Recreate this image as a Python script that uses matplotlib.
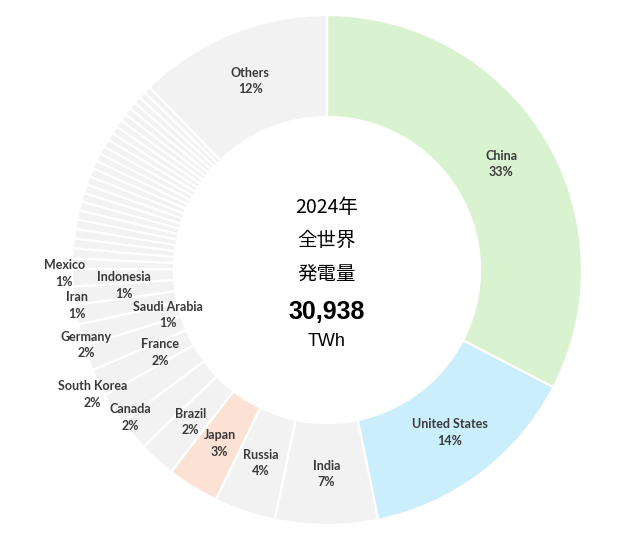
import matplotlib
matplotlib.use("Agg")
import matplotlib.pyplot as plt
import numpy as np

# 2024 electricity generation (TWh)
countries = ["China", "United States", "India", "Russia", "Japan", "Brazil",
             "Canada", "South Korea", "France", "Germany", "Saudi Arabia",
             "Iran", "Indonesia", "Mexico"]
gen = [10087, 4387, 2013, 1204, 1015, 723, 630, 617, 539, 498, 430, 380, 360, 345]

# unlabelled smaller countries, in drawing order
small_gen = [201, 196, 192, 188, 184, 180, 176, 173, 170, 167, 164, 161,
             158, 156, 154, 152, 150, 148, 146, 144, 142, 140, 138, 136]

total = 30938
others = total - sum(gen) - sum(small_gen)

values = gen + small_gen + [others]
names = countries + [""] * len(small_gen) + ["Others"]

GREY = "#f2f2f2"
colors = [GREY] * len(values)
colors[0] = "#d9f2d0"
colors[1] = "#caeefb"
colors[4] = "#fbe2d5"

# label radius and small angle nudge (deg) for each labelled slice
label_r = {"China": 0.80, "United States": 0.80, "India": 0.80, "Russia": 0.80,
           "Japan": 0.80, "Brazil": 0.80, "Canada": 0.965, "South Korea": 1.04,
           "France": 0.73, "Germany": 0.99, "Saudi Arabia": 0.65, "Iran": 0.99,
           "Indonesia": 0.80, "Mexico": 1.03, "Others": 0.80}
label_nudge = {"Canada": -3.4, "South Korea": -5.0, "Germany": -3.0,
               "Saudi Arabia": 1.0, "Iran": -2.0, "Indonesia": -1.4, "Mexico": -1.0}

fig = plt.figure(figsize=(6.21, 5.45), dpi=100)
ax = fig.add_axes([0, 0, 1, 1])

wedges, _ = ax.pie(values, colors=colors, startangle=90, counterclock=False,
                   radius=1.0, wedgeprops=dict(width=0.4, edgecolor="white", linewidth=1.6))

for w, name, v in zip(wedges, names, values):
    if not name:
        continue
    ang = (w.theta1 + w.theta2) / 2 + label_nudge.get(name, 0)
    r = label_r[name]
    x = r * np.cos(np.radians(ang))
    y = r * np.sin(np.radians(ang))
    pct = f"{round(100 * v / total)}%"
    ax.text(x, y, f"{name}\n{pct}", ha="center", va="center", fontsize=9,
            fontweight="bold", color="#3a3a3a", family="Lato", linespacing=1.45)

cjk = ["Noto Sans CJK JP", "DejaVu Sans"]
ax.text(0, 0.245, "2024年", ha="center", va="center", fontsize=14, family=cjk)
ax.text(0, 0.115, "全世界", ha="center", va="center", fontsize=14, family=cjk)
ax.text(0, -0.02, "発電量", ha="center", va="center", fontsize=14, family=cjk)
ax.text(0, -0.165, "30,938", ha="center", va="center", fontsize=18,
        fontweight="bold", family="Liberation Sans")
ax.text(0, -0.28, "TWh", ha="center", va="center", fontsize=13, family="Liberation Sans")

ax.set_xlim(-327 / 255, (621 - 327) / 255)
ax.set_ylim(-(545 - 270) / 255, 270 / 255)
ax.set_aspect("equal")
ax.axis("off")

fig.savefig("out.png", dpi=100, facecolor="white")
